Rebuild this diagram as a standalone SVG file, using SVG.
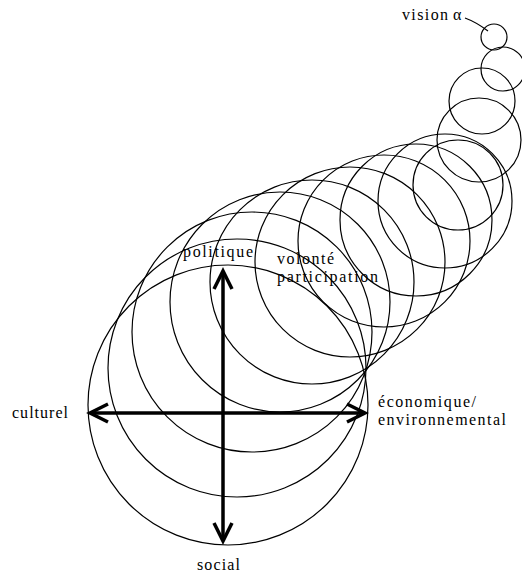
<svg xmlns="http://www.w3.org/2000/svg" width="522" height="573" viewBox="0 0 522 573">
<style>
.c{fill:none;stroke:#000;stroke-width:1.2}
.ax{fill:none;stroke:#000;stroke-width:3.5}
.t{font-family:"Liberation Serif","Times New Roman",serif;font-size:16px;fill:#000}
</style>
<defs>
<marker id="v" markerUnits="userSpaceOnUse" orient="auto-start-reverse" overflow="visible" markerWidth="1" markerHeight="1" refX="0" refY="0">
<path d="M-18,-9 L0,0 L-18,9" fill="none" stroke="#000" stroke-width="3.5"/>
</marker>
</defs>
<rect width="522" height="573" fill="#fff"/>
<g id="spiral">
<circle class="c" cx="494" cy="37" r="13"/>
<circle class="c" cx="503" cy="69" r="22"/>
<circle class="c" cx="482" cy="101" r="33"/>
<circle class="c" cx="479" cy="140" r="42"/>
<circle class="c" cx="458" cy="185" r="45"/>
<circle class="c" cx="445" cy="201" r="67"/>
<circle class="c" cx="416" cy="220" r="76"/>
<circle class="c" cx="384" cy="241" r="86"/>
<circle class="c" cx="350" cy="262" r="95"/>
<circle class="c" cx="312" cy="282" r="102"/>
<circle class="c" cx="280" cy="302" r="110"/>
<circle class="c" cx="252" cy="332" r="120"/>
<circle class="c" cx="237" cy="368" r="129"/>
<circle class="c" cx="228" cy="405" r="140"/>
<path class="c" d="M465,18 Q476,22 488,31"/>
</g>
<g id="connectors">
<line class="ax" x1="90" y1="413" x2="365" y2="413" marker-start="url(#v)" marker-end="url(#v)"/>
<line class="ax" x1="223" y1="271" x2="223" y2="541" marker-start="url(#v)" marker-end="url(#v)"/>
</g>
<g id="vision"><text class="t" x="402" y="20" textLength="46" lengthAdjust="spacing">vision</text><text class="t" x="453" y="20">α</text></g>
<g id="politique"><text class="t" x="183" y="257" textLength="70" lengthAdjust="spacing">politique</text></g>
<g id="volonte"><text class="t" x="277" y="264" textLength="57" lengthAdjust="spacing">volonté</text><text class="t" x="277" y="282" textLength="101" lengthAdjust="spacing">participation</text></g>
<g id="culturel"><text class="t" x="12" y="418" textLength="56" lengthAdjust="spacing">culturel</text></g>
<g id="social"><text class="t" x="197" y="570" textLength="43" lengthAdjust="spacing">social</text></g>
<g id="economique"><text class="t" x="378" y="407" textLength="98" lengthAdjust="spacing">économique/</text><text class="t" x="378" y="425" textLength="128" lengthAdjust="spacing">environnemental</text></g>
</svg>
